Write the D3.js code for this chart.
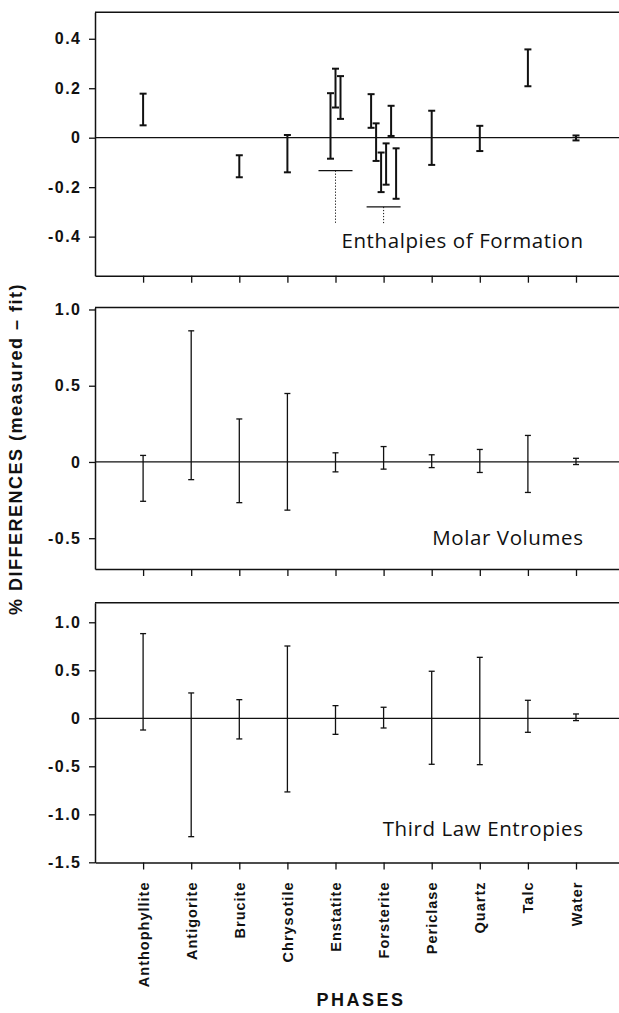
<!DOCTYPE html>
<html>
<head>
<meta charset="utf-8">
<script src="https://cdn.jsdelivr.net/npm/d3@7"></script>
<style>
  body { margin: 0; background: #fff; }
  svg { display: block; }
</style>
</head>
<body>
<svg id="chart"></svg>
<script>
// phases along the x axis
const phases = ["Anthophyllite", "Antigorite", "Brucite", "Chrysotile", "Enstatite",
  "Forsterite", "Periclase", "Quartz", "Talc", "Water"];

// enthalpies of formation: several determinations for some phases (low / high ends)
const enthalpyLow = [[0.05], [], [-0.16], [-0.14], [-0.085, 0.122, 0.076],
  [0.04, -0.094, -0.22, -0.19, 0.007, -0.247], [-0.11], [-0.054], [0.208], [-0.011]];
const enthalpyHigh = [[0.178], [], [-0.071], [0.011], [0.18, 0.279, 0.249],
  [0.176, 0.058, -0.06, -0.023, 0.129, -0.043], [0.109], [0.048], [0.357], [0.009]];
// horizontal marks with dotted drop lines (Enstatite, Forsterite)
const markPhases = ["Enstatite", "Forsterite"];
const markValues = [-0.133, -0.28];
const markDropTo = -0.35;

// molar volumes
const volumeLow = [-0.258, -0.116, -0.267, -0.316, -0.065, -0.047, -0.037, -0.069, -0.2, -0.017];
const volumeHigh = [0.043, 0.86, 0.282, 0.449, 0.06, 0.101, 0.047, 0.082, 0.174, 0.024];

// third law entropies
const entropyLow = [-0.122, -1.233, -0.215, -0.767, -0.167, -0.101, -0.479, -0.483, -0.146, -0.024];
const entropyHigh = [0.882, 0.264, 0.194, 0.753, 0.132, 0.115, 0.49, 0.635, 0.1875, 0.045];

// tick values and labels
const enthalpyTicks = [-0.4, -0.2, 0, 0.2, 0.4];
const enthalpyTickLabels = ["-0.4", "-0.2", "0", "0.2", "0.4"];
const volumeTicks = [-0.5, 0, 0.5, 1.0];
const volumeTickLabels = ["-0.5", "0", "0.5", "1.0"];
const entropyTicks = [-1.5, -1.0, -0.5, 0, 0.5, 1.0];
const entropyTickLabels = ["-1.5", "-1.0", "-0.5", "0", "0.5", "1.0"];

const width = 619, height = 1013;
const left = 95, step = 48.1;
const right = left + step * (phases.length + 1);

const svg = d3.select("#chart")
  .attr("width", width)
  .attr("height", height)
  .attr("viewBox", [0, 0, width, height]);

const x = d3.scaleLinear()
  .domain([0, phases.length + 1])
  .range([left, right]);
const xPhase = name => x(phases.indexOf(name) + 1);

const panels = [
  {title: "Enthalpies of Formation", low: enthalpyLow, high: enthalpyHigh,
   domain: [-0.558, 0.507], top: 12.3, bottom: 275.7,
   ticks: enthalpyTicks, tickLabels: enthalpyTickLabels, titleY: 248, heavy: true},
  {title: "Molar Volumes", low: volumeLow, high: volumeHigh,
   domain: [-0.702, 1.013], top: 307.5, bottom: 569,
   ticks: volumeTicks, tickLabels: volumeTickLabels, titleY: 545, heavy: false},
  {title: "Third Law Entropies", low: entropyLow, high: entropyHigh,
   domain: [-1.502, 1.204], top: 602.7, bottom: 862.5,
   ticks: entropyTicks, tickLabels: entropyTickLabels, titleY: 836, heavy: false}
];

const boldFont = "'Liberation Sans', Arial, Helvetica, sans-serif";

panels.forEach((p, pi) => {
  const y = d3.scaleLinear().domain(p.domain).range([p.bottom, p.top]);
  const g = svg.append("g");

  // top border
  g.append("line")
    .attr("x1", left).attr("x2", right)
    .attr("y1", p.top).attr("y2", p.top)
    .attr("stroke", "#111").attr("stroke-width", 1.5);

  // left axis (its domain line is the left border)
  const yAxis = g.append("g")
    .attr("transform", `translate(${left},0)`)
    .call(d3.axisLeft(y).tickValues(p.ticks)
      .tickFormat((d, i) => p.tickLabels[i])
      .tickSize(6).tickSizeOuter(0));
  yAxis.select(".domain").attr("stroke", "#111").attr("stroke-width", 1.5);
  yAxis.selectAll(".tick line").attr("stroke", "#111").attr("stroke-width", 1.3);
  yAxis.selectAll(".tick text")
    .attr("x", -13.5)
    .attr("fill", "#111")
    .style("font-family", boldFont)
    .style("font-weight", "bold")
    .style("font-size", "16px")
    .style("letter-spacing", "1.5px");

  // bottom axis (its domain line is the bottom border)
  const xAxis = g.append("g")
    .attr("transform", `translate(0,${p.bottom})`)
    .call(d3.axisBottom(x).tickValues(d3.range(1, phases.length + 1))
      .tickFormat(d => pi === panels.length - 1 ? phases[d - 1] : "")
      .tickSize(7).tickSizeOuter(0));
  xAxis.select(".domain").attr("stroke", "#111").attr("stroke-width", 1.5);
  xAxis.selectAll(".tick line").attr("stroke", "#111").attr("stroke-width", 1.3);
  xAxis.selectAll(".tick text")
    .attr("transform", "rotate(-90)")
    .attr("text-anchor", "end")
    .attr("x", -19)
    .attr("y", 0)
    .attr("dy", "0.35em")
    .attr("fill", "#111")
    .style("font-family", boldFont)
    .style("font-weight", "bold")
    .style("font-size", "14.5px")
    .style("letter-spacing", "1px");

  // zero line
  g.append("line")
    .attr("x1", left).attr("x2", right)
    .attr("y1", y(0)).attr("y2", y(0))
    .attr("stroke", "#111").attr("stroke-width", 1.2);

  // error bars
  const bars = [];
  phases.forEach((ph, i) => {
    const lows = [].concat(p.low[i]);
    const highs = [].concat(p.high[i]);
    lows.forEach((lo, j) => {
      bars.push({i, lo, hi: highs[j], off: (j - (lows.length - 1) / 2) * 5});
    });
  });
  const sw = p.heavy ? 2 : 1.3;
  const cap = p.heavy ? 3.5 : 3;
  const bar = g.append("g").selectAll("g").data(bars).join("g")
    .attr("transform", d => `translate(${x(d.i + 1) + d.off},0)`)
    .attr("stroke", "#111").attr("stroke-width", sw);
  bar.append("line").attr("y1", d => y(d.lo)).attr("y2", d => y(d.hi));
  bar.append("line").attr("x1", -cap).attr("x2", cap)
    .attr("y1", d => y(d.lo)).attr("y2", d => y(d.lo));
  bar.append("line").attr("x1", -cap).attr("x2", cap)
    .attr("y1", d => y(d.hi)).attr("y2", d => y(d.hi));

  if (p.heavy) {
    markPhases.forEach((ph, k) => {
      const cx = xPhase(ph);
      g.append("line")
        .attr("x1", cx - 17).attr("x2", cx + 17)
        .attr("y1", y(markValues[k])).attr("y2", y(markValues[k]))
        .attr("stroke", "#111").attr("stroke-width", 1.2);
      g.append("line")
        .attr("x1", cx).attr("x2", cx)
        .attr("y1", y(markValues[k])).attr("y2", y(markDropTo))
        .attr("stroke", "#111").attr("stroke-width", 1)
        .attr("stroke-dasharray", "1.2,1.8");
    });
  }

  // panel title
  g.append("text")
    .attr("x", 583 + 0.6)
    .attr("y", p.titleY)
    .attr("text-anchor", "end")
    .attr("fill", "#111")
    .style("font-family", "'Open Sans', 'Noto Sans', sans-serif")
    .style("font-size", "20.5px")
    .style("letter-spacing", "0.6px")
    .text(p.title);
});

// axis titles
svg.append("text")
  .attr("transform", "translate(21.5,449) rotate(-90)")
  .attr("text-anchor", "middle")
  .attr("fill", "#111")
  .style("font-family", boldFont)
  .style("font-weight", "bold")
  .style("font-size", "18px")
  .style("letter-spacing", "1.5px")
  .text("% DIFFERENCES (measured – fit)");

svg.append("text")
  .attr("x", 361)
  .attr("y", 1006)
  .attr("text-anchor", "middle")
  .attr("fill", "#111")
  .style("font-family", boldFont)
  .style("font-weight", "bold")
  .style("font-size", "18px")
  .style("letter-spacing", "2.5px")
  .text("PHASES");
</script>
</body>
</html>
